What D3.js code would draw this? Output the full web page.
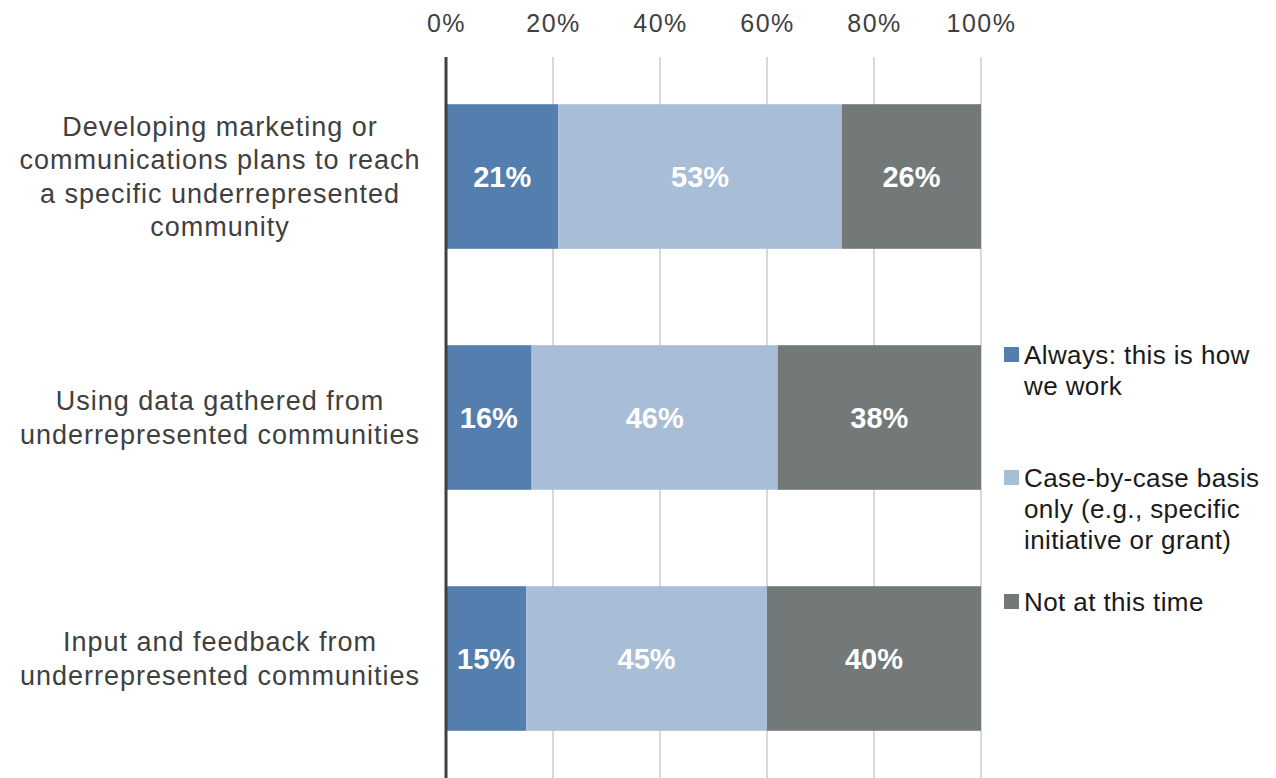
<!DOCTYPE html>
<html>
<head>
<meta charset="utf-8">
<script src="https://cdn.jsdelivr.net/npm/d3@7"></script>
<style>
  html, body { margin: 0; padding: 0; background: #fff; }
  svg { display: block; font-family: "Liberation Sans", Arial, sans-serif; }
</style>
</head>
<body>
<svg id="chart" width="1276" height="778"></svg>
<script>
// Survey rows (top to bottom), each drawn as one 100% stacked bar
const categories = [
  ["Developing marketing or", "communications plans to reach", "a specific underrepresented", "community"],
  ["Using data gathered from", "underrepresented communities"],
  ["Input and feedback from", "underrepresented communities"]
];
const seriesNames = [
  ["Always: this is how", "we work"],
  ["Case-by-case basis", "only (e.g., specific", "initiative or grant)"],
  ["Not at this time"]
];
const always     = [21, 16, 15];
const caseByCase = [53, 46, 45];
const notNow     = [26, 38, 40];
const tickValues = [0, 20, 40, 60, 80, 100];

const colors = ["#547eae", "#a8bdd6", "#737879"];

const svg = d3.select("#chart");
const W = 1276, H = 778;

const x = d3.scaleLinear().domain([0, 100]).range([446, 981]);
const y = d3.scaleBand().domain(d3.range(categories.length))
  .range([56, 779]).paddingInner(0.4).paddingOuter(0.2);

// vertical gridlines
svg.append("g").selectAll("line").data(tickValues.slice(1)).join("line")
  .attr("x1", d => x(d)).attr("x2", d => x(d))
  .attr("y1", 57).attr("y2", H)
  .attr("stroke", "#d9d9d9").attr("stroke-width", 2);

// top axis labels
const axis = d3.axisTop(x).tickValues(tickValues).tickFormat(d => d + "%").tickSize(0).tickPadding(0);
const gAxis = svg.append("g").attr("transform", "translate(0,32)").call(axis);
gAxis.select(".domain").remove();
gAxis.selectAll("text")
  .attr("font-size", 25).attr("fill", "#404040")
  .attr("letter-spacing", 1.5)
  .attr("font-family", "Liberation Sans, Arial, sans-serif");

// stacked segments
const stackData = categories.map((c, i) => ({ i, always: always[i], caseByCase: caseByCase[i], notNow: notNow[i] }));
const keys = ["always", "caseByCase", "notNow"];
const stacked = d3.stack().keys(keys)(stackData);

const layers = svg.append("g").selectAll("g").data(stacked).join("g")
  .attr("fill", (d, k) => colors[k]);

layers.selectAll("rect").data(d => d).join("rect")
  .attr("x", d => x(d[0]))
  .attr("width", d => x(d[1]) - x(d[0]))
  .attr("y", d => y(d.data.i))
  .attr("height", y.bandwidth());

layers.selectAll("text").data(d => d).join("text")
  .attr("x", d => (x(d[0]) + x(d[1])) / 2)
  .attr("y", d => y(d.data.i) + y.bandwidth() / 2)
  .attr("dy", "0.36em")
  .attr("text-anchor", "middle")
  .attr("font-size", 29).attr("font-weight", "bold")
  .attr("fill", "#ffffff")
  .text(d => (d[1] - d[0]) + "%");

// category axis line
svg.append("line")
  .attr("x1", x(0)).attr("x2", x(0))
  .attr("y1", 57).attr("y2", H)
  .attr("stroke", "#404040").attr("stroke-width", 3);

// category labels (multi-line, centred)
const lineH = 33.5;
svg.append("g").selectAll("text").data(categories).join("text")
  .attr("text-anchor", "middle")
  .attr("font-size", 27).attr("fill", "#404040")
  .attr("letter-spacing", 1)
  .each(function (lines, i) {
    const cy = y(i) + y.bandwidth() / 2;
    const start = cy - (lines.length - 1) * lineH / 2;
    d3.select(this).selectAll("tspan").data(lines).join("tspan")
      .attr("x", 220)
      .attr("y", (d, j) => start + j * lineH)
      .attr("dy", "0.36em")
      .text(d => d);
  });

// legend
const legendTop = [355, 478, 602];
const legLineH = 31;
const leg = svg.append("g").selectAll("g").data(seriesNames).join("g");
leg.append("rect")
  .attr("x", 1004).attr("y", (d, k) => legendTop[k] - 8)
  .attr("width", 15).attr("height", 15)
  .attr("fill", (d, k) => colors[k]);
leg.append("text")
  .attr("font-size", 26).attr("fill", "#1a1a1a")
  .attr("letter-spacing", 0.4)
  .each(function (lines, k) {
    d3.select(this).selectAll("tspan").data(lines).join("tspan")
      .attr("x", 1024)
      .attr("y", (d, j) => legendTop[k] + j * legLineH)
      .attr("dy", "0.36em")
      .text(d => d);
  });
</script>
</body>
</html>
